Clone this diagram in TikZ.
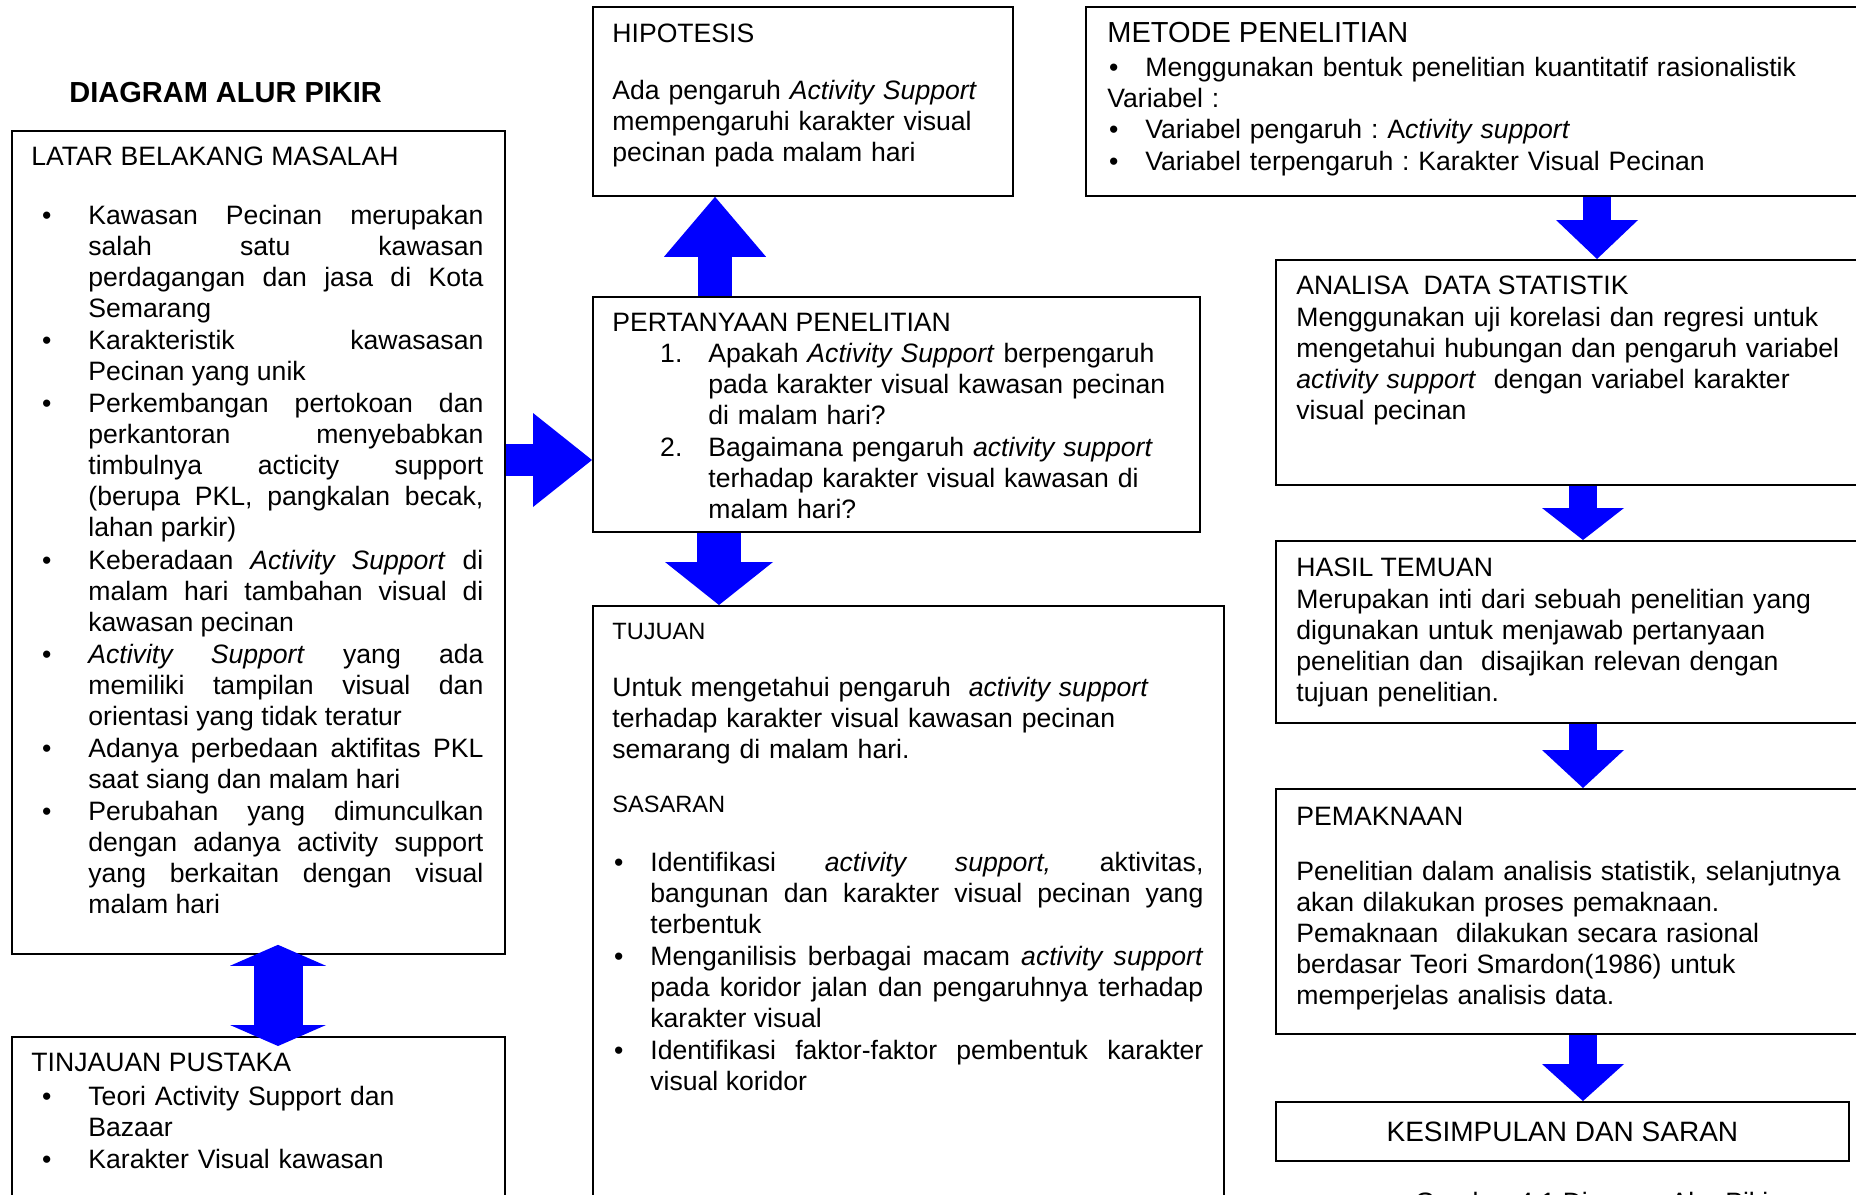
\documentclass[tikz,border=0pt]{standalone}
\usepackage{fontspec}
\setmainfont{Liberation Sans}
\usepackage{enumitem}
\usetikzlibrary{arrows.meta, calc}

\definecolor{arrowblue}{RGB}{0,0,255}
\newcommand{\bodysize}{\fontsize{13.3}{15.5}\selectfont}
\setlist{nosep, itemsep=0.6pt}
\setlist[itemize]{label=\textbullet}
\hyphenpenalty=10000
\exhyphenpenalty=10000
\tolerance=10000
\frenchspacing

\begin{document}
\begin{tikzpicture}[
    x=0.5pt, y=-0.5pt,
    panel/.style={rectangle, draw, line width=0.9pt, inner sep=0pt, anchor=north west},
    head/.style={anchor=west, inner sep=0pt, font=\bodysize},
    body/.style={anchor=north west, inner sep=0pt, font=\bodysize, align=left},
    justbody/.style={anchor=north west, inner sep=0pt, font=\bodysize, align=justify},
    blockarrow/.style n args={3}{draw=arrowblue, line width=#1, -{Triangle[width=#2, length=#3, line width=0pt]}},
    blockboth/.style n args={3}{draw=arrowblue, line width=#1, {Triangle[width=#2, length=#3, line width=0pt]}-{Triangle[width=#2, length=#3, line width=0pt]}}
]
\useasboundingbox (0,0) rectangle (1856,1194);

% Judul
\node[anchor=west, inner sep=0pt, font=\fontsize{14.5}{17}\selectfont\bfseries] (judul) at (69,93) {DIAGRAM ALUR PIKIR};

% Kotak
\node[panel, minimum width=246.5pt, minimum height=411.5pt] (latar) at (11,130) {};
\node[panel, minimum width=246.5pt, minimum height=100pt] (tinjauan) at (11,1036) {};
\node[panel, minimum width=210pt, minimum height=94.5pt] (hipotesis) at (592,6) {};
\node[panel, minimum width=400pt, minimum height=94.5pt] (metode) at (1085,6) {};
\node[panel, minimum width=303.5pt, minimum height=117.5pt] (pertanyaan) at (592,296) {};
\node[panel, minimum width=315.5pt, minimum height=315pt] (tujuan) at (592,605) {};
\node[panel, minimum width=305pt, minimum height=112.5pt] (analisa) at (1275,259) {};
\node[panel, minimum width=305pt, minimum height=91pt] (hasil) at (1275,540) {};
\node[panel, minimum width=305pt, minimum height=122.5pt] (pemaknaan) at (1275,788) {};
\node[panel, minimum width=286.5pt, minimum height=29.5pt, font=\fontsize{14}{16}\selectfont] (kesimpulan) at (1275,1101) {KESIMPULAN DAN SARAN};

% Latar belakang
\node[head] (latarhead) at (31,156) {LATAR BELAKANG MASALAH};
\node[justbody, text width=226pt] (latartext) at (31,193) {%
\begin{itemize}[leftmargin=28.5pt, labelsep=18.5pt]
\item Kawasan Pecinan merupakan\linebreak salah satu kawasan\linebreak perdagangan dan jasa di Kota\linebreak Semarang
\item Karakteristik kawasasan\linebreak Pecinan yang unik
\item Perkembangan pertokoan dan\linebreak perkantoran menyebabkan\linebreak timbulnya acticity support\linebreak (berupa PKL, pangkalan becak,\linebreak lahan parkir)
\item Keberadaan \textit{Activity Support} di\linebreak malam hari tambahan visual di\linebreak kawasan pecinan
\item \textit{Activity Support} yang ada\linebreak memiliki tampilan visual dan\linebreak orientasi yang tidak teratur
\item Adanya perbedaan aktifitas PKL\linebreak saat siang dan malam hari
\item Perubahan yang dimunculkan\linebreak dengan adanya activity support\linebreak yang berkaitan dengan visual\linebreak malam hari
\end{itemize}};

% Tinjauan pustaka
\node[head] (tinjauanhead) at (31,1062) {TINJAUAN PUSTAKA};
\node[body, text width=226pt] (tinjauantext) at (31,1074) {%
\begin{itemize}[leftmargin=28.5pt, labelsep=18.5pt]
\item Teori Activity Support dan\newline Bazaar
\item Karakter Visual kawasan
\end{itemize}};

% Hipotesis
\node[head] (hiphead) at (612,33) {HIPOTESIS};
\node[body, text width=195pt] (hiptext) at (612,80) {Ada pengaruh \textit{Activity Support}\\ mempengaruhi karakter visual\\ pecinan pada malam hari};

% Metode penelitian
\node[head, font=\fontsize{14.5}{17}\selectfont] (metodehead) at (1107,33) {METODE PENELITIAN};
\node[body, text width=370pt] (metodetext) at (1107,45) {%
\begin{itemize}[leftmargin=19pt, labelsep=13.5pt]
\item Menggunakan bentuk penelitian kuantitatif rasionalistik
\end{itemize}
Variabel :
\begin{itemize}[leftmargin=19pt, labelsep=13.5pt]
\item Variabel pengaruh : A\textit{ctivity support}
\item Variabel terpengaruh : Karakter Visual Pecinan
\end{itemize}};

% Pertanyaan penelitian
\node[head] (pertanyaanhead) at (612,322) {PERTANYAAN PENELITIAN};
\node[body, text width=288pt] (pertanyaantext) at (612,331) {%
\begin{enumerate}[label=\arabic*., leftmargin=48pt, labelsep=13pt]
\item Apakah \textit{Activity Support} berpengaruh\newline pada karakter visual kawasan pecinan\newline di malam hari?
\item Bagaimana pengaruh \textit{activity support}\newline terhadap karakter visual kawasan di\newline malam hari?
\end{enumerate}};

% Tujuan dan sasaran
\node[head, font=\fontsize{11.8}{14}\selectfont] (tujuanhead) at (612,631) {TUJUAN};
\node[body, text width=300pt] (tujuantext) at (612,677) {Untuk mengetahui pengaruh~ \textit{activity support}\\ terhadap karakter visual kawasan pecinan\\ semarang di malam hari.};
\node[head, font=\fontsize{11.8}{14}\selectfont] (sasaranhead) at (612,804) {SASARAN};
\node[justbody, text width=295.5pt] (sasarantext) at (612,840) {%
\begin{itemize}[leftmargin=19pt, labelsep=13.5pt]
\item Identifikasi \textit{activity support,} aktivitas,\linebreak bangunan dan karakter visual pecinan yang\linebreak terbentuk
\item Menganilisis berbagai macam \textit{activity support}\linebreak pada koridor jalan dan pengaruhnya terhadap\linebreak karakter visual
\item Identifikasi faktor-faktor pembentuk karakter\linebreak visual koridor
\end{itemize}};

% Analisa data
\node[head] (analisahead) at (1296,285) {ANALISA~ DATA STATISTIK};
\node[body, text width=285pt] (analisatext) at (1296,307) {Menggunakan uji korelasi dan regresi untuk\\ mengetahui hubungan dan pengaruh variabel\\ \textit{activity support}~ dengan variabel karakter\\ visual pecinan};

% Hasil temuan
\node[head] (hasilhead) at (1296,567) {HASIL TEMUAN};
\node[body, text width=285pt] (hasiltext) at (1296,589) {Merupakan inti dari sebuah penelitian yang\\ digunakan untuk menjawab pertanyaan\\ penelitian dan~ disajikan relevan dengan\\ tujuan penelitian.};

% Pemaknaan
\node[head] (pemaknaanhead) at (1296,816) {PEMAKNAAN};
\node[body, text width=285pt] (pemaknaantext) at (1296,861) {Penelitian dalam analisis statistik, selanjutnya\\ akan dilakukan proses pemaknaan.\\ Pemaknaan~ dilakukan secara rasional\\ berdasar Teori Smardon(1986) untuk\\ memperjelas analisis data.};

% Keterangan gambar
\node[anchor=north, inner sep=0pt, font=\bodysize] (caption) at (1596,1192) {Gambar 4.1 Diagram Alur Pikir};

% Panah
\draw[blockarrow={17pt}{51pt}{30pt}] ($(pertanyaan.north west)+(123,0)$) -- ($(hipotesis.south west)+(123,0)$);
\draw[blockarrow={16pt}{47pt}{29.5pt}] ($(latar.north east)+(0,330)$) -- ($(pertanyaan.north west)+(0,164)$);
\draw[blockarrow={22pt}{54pt}{21.5pt}] ($(pertanyaan.south west)+(127,0)$) -- ($(tujuan.north west)+(127,0)$);
\draw[blockboth={24.5pt}{48pt}{10.5pt}] ($(latar.south west)+(267,-10)$) -- ($(tinjauan.north west)+(267,10)$);
\draw[blockarrow={14pt}{41pt}{19.5pt}] ($(metode.south west)+(512,0)$) -- ($(analisa.north west)+(322,0)$);
\draw[blockarrow={14pt}{41pt}{16pt}] ($(analisa.south west)+(308,0)$) -- ($(hasil.north west)+(308,0)$);
\draw[blockarrow={14pt}{41pt}{19pt}] ($(hasil.south west)+(308,0)$) -- ($(pemaknaan.north west)+(308,0)$);
\draw[blockarrow={14pt}{41pt}{18.5pt}] ($(pemaknaan.south west)+(308,0)$) -- ($(kesimpulan.north west)+(308,0)$);

\end{tikzpicture}
\end{document}
